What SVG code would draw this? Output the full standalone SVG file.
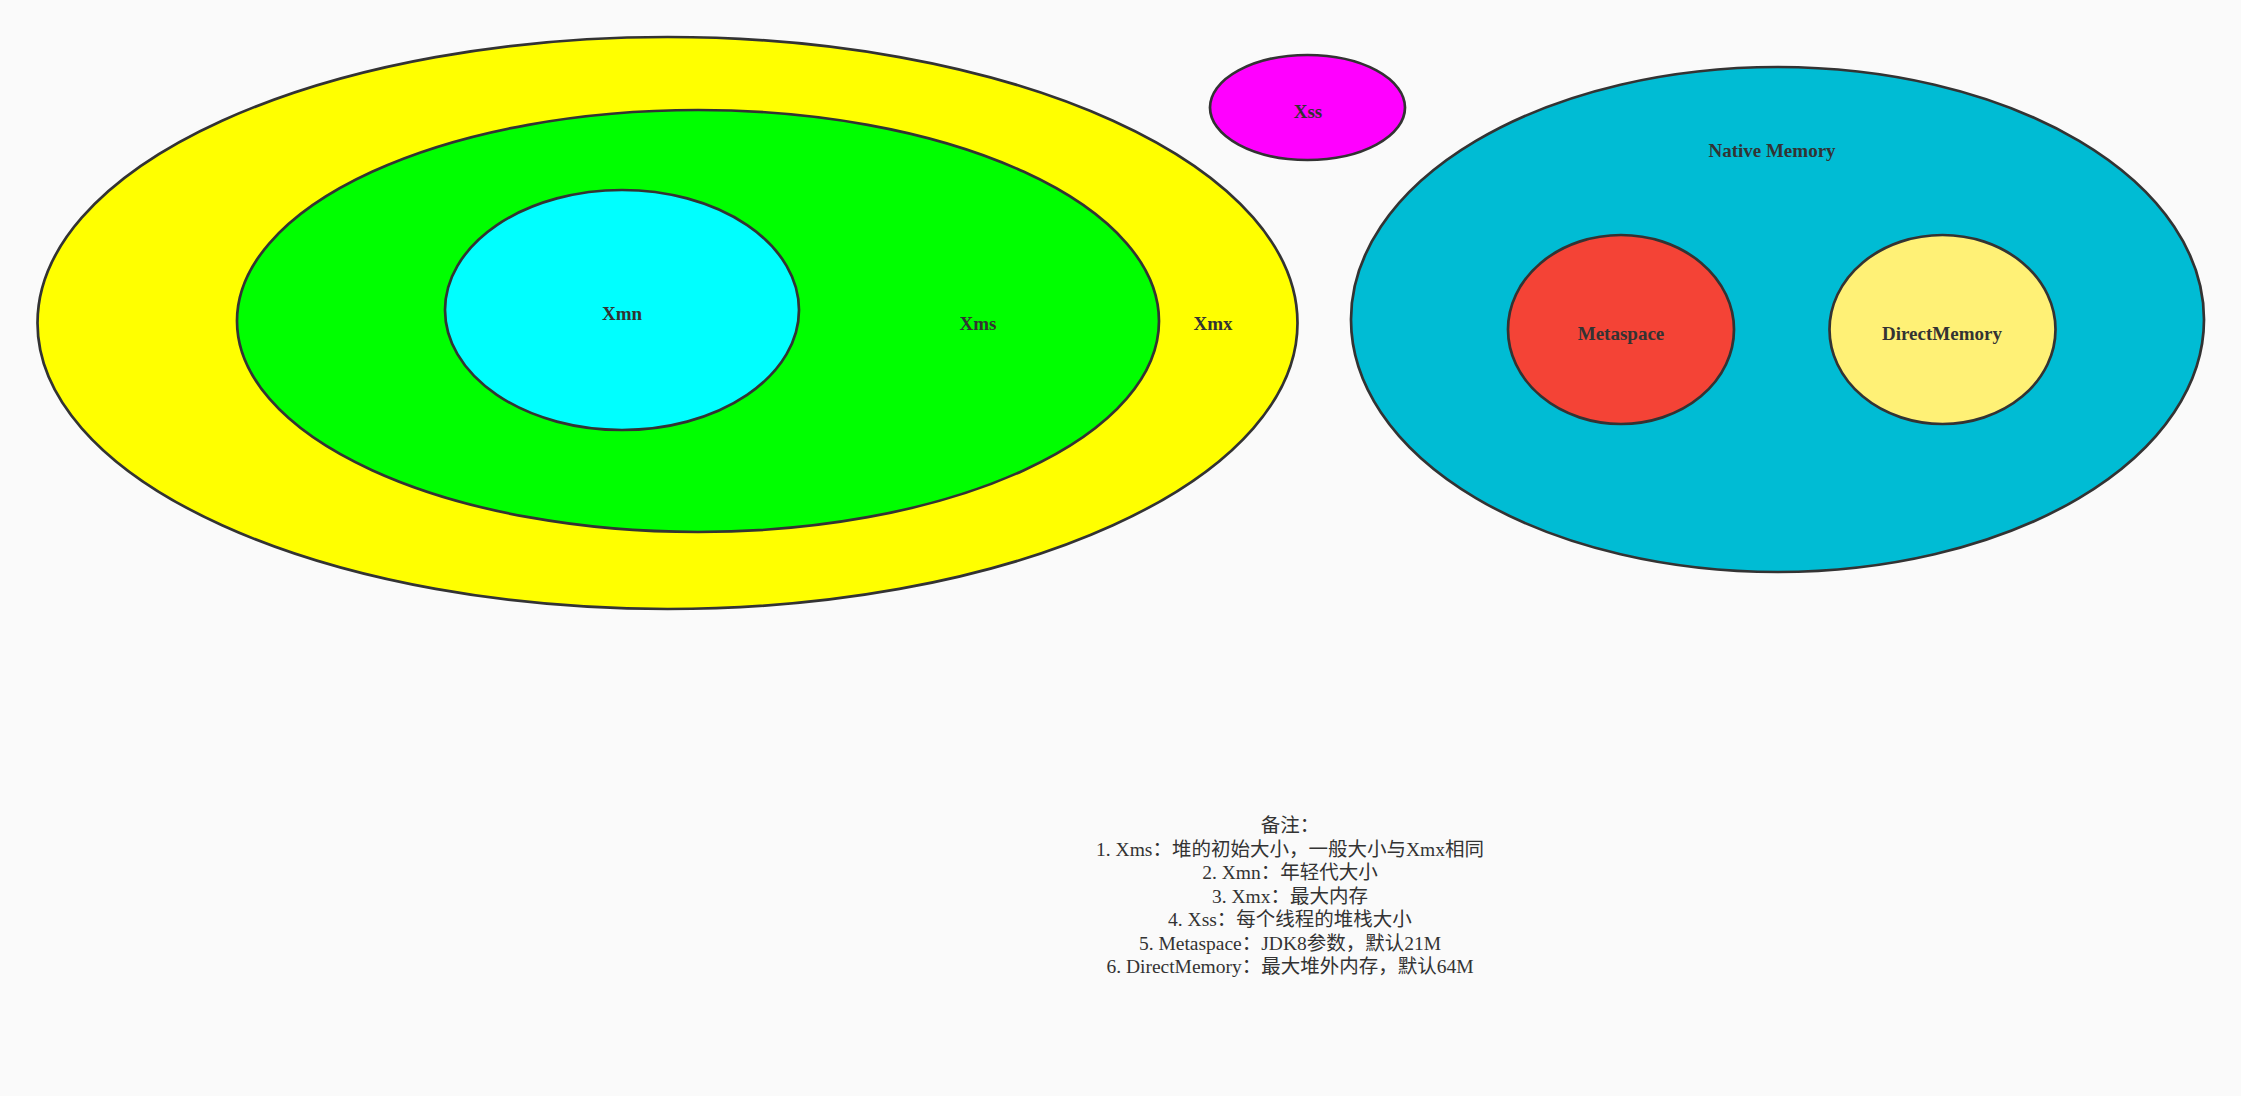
<svg xmlns="http://www.w3.org/2000/svg" width="2241" height="1096" viewBox="0 0 2241 1096">
<style>
.e{stroke:#333;stroke-width:2.7}
.l{font-family:"Liberation Serif","Noto Sans CJK SC",serif;font-weight:bold;font-size:19px;fill:#333;text-anchor:middle}
.n{font-family:"Liberation Serif","Noto Sans CJK SC",serif;font-size:19.5px;fill:#333;text-anchor:middle}
</style>
<rect width="2241" height="1096" fill="#fafafa"/>
<g id="xmx">
<ellipse class="e" cx="667.5" cy="323" rx="630" ry="286" fill="#ffff00"/>
<text class="l" x="1213" y="330">Xmx</text>
</g>
<g id="xms">
<ellipse class="e" cx="698" cy="321" rx="461" ry="211" fill="#00ff00"/>
<text class="l" x="978" y="330">Xms</text>
</g>
<g id="xmn">
<ellipse class="e" cx="622" cy="310" rx="177" ry="120" fill="#00ffff"/>
<text class="l" x="622" y="320">Xmn</text>
</g>
<g id="xss">
<ellipse class="e" cx="1307.5" cy="107.5" rx="97.5" ry="52.5" fill="#ff00ff"/>
<text class="l" x="1308" y="118">Xss</text>
</g>
<g id="native">
<ellipse class="e" cx="1777.5" cy="319.5" rx="426.5" ry="252.5" fill="#00bcd4"/>
<text class="l" x="1772" y="157">Native Memory</text>
</g>
<g id="metaspace">
<ellipse class="e" cx="1621" cy="329.5" rx="113" ry="94.5" fill="#f44336"/>
<text class="l" x="1621" y="340">Metaspace</text>
</g>
<g id="direct">
<ellipse class="e" cx="1942.5" cy="329.5" rx="113" ry="94.5" fill="#fff176"/>
<text class="l" x="1942" y="340">DirectMemory</text>
</g>
<g id="connectors"/>
<g id="notes">
<text class="n" x="1290" y="832">备注：</text>
<text class="n" x="1290" y="855.5">1. Xms：堆的初始大小，一般大小与Xmx相同</text>
<text class="n" x="1290" y="879">2. Xmn：年轻代大小</text>
<text class="n" x="1290" y="902.5">3. Xmx：最大内存</text>
<text class="n" x="1290" y="926">4. Xss：每个线程的堆栈大小</text>
<text class="n" x="1290" y="949.5">5. Metaspace：JDK8参数，默认21M</text>
<text class="n" x="1290" y="973">6. DirectMemory：最大堆外内存，默认64M</text>
</g>
</svg>
